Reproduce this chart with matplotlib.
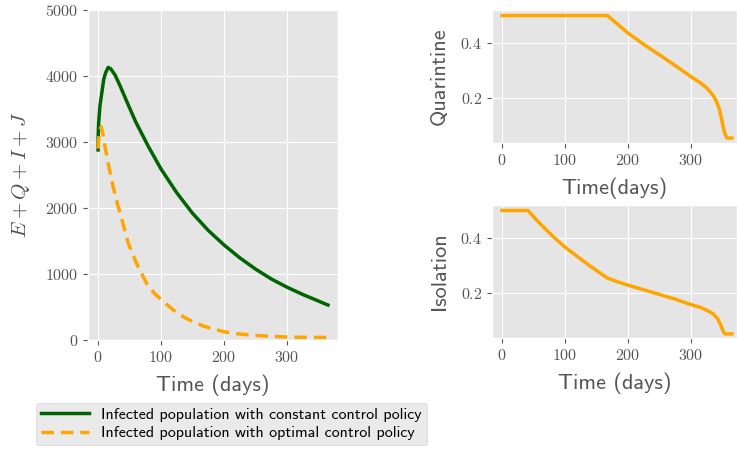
import numpy as np
import matplotlib
matplotlib.use("Agg")
from matplotlib import pyplot as plt

plt.style.use("ggplot")
plt.rcParams["mathtext.fontset"] = "cm"
plt.rcParams["axes.formatter.use_mathtext"] = True

# infected compartments E+Q+I+J
t_const = [0, 0.3, 1, 3, 6, 9, 12, 16, 20, 27, 35, 48, 60, 80, 100, 125, 150, 175, 200, 225, 250, 275, 300, 325, 350, 365]
inf_const = [2880, 3150, 3300, 3550, 3750, 3950, 4050, 4130, 4110, 4015, 3850, 3560, 3300, 2930, 2590, 2230, 1920, 1660, 1440, 1245, 1075, 925, 800, 690, 590, 530]
t_opt = [0, 2, 5, 8, 11, 17, 24, 30, 38, 48, 61, 77, 90, 104, 120, 135, 150, 170, 200, 225, 250, 275, 300, 330, 365]
inf_opt = [2900, 3150, 3230, 3100, 2930, 2630, 2320, 2090, 1818, 1465, 1162, 859, 700, 580, 450, 353, 280, 202, 125, 90, 70, 55, 45, 40, 40]

# control profiles
t_q = [0, 167, 180, 200, 225, 250, 275, 300, 315, 325, 335, 340, 345, 348, 351, 354, 357, 365]
quar = [0.5, 0.5, 0.475, 0.436, 0.395, 0.357, 0.318, 0.278, 0.255, 0.237, 0.21, 0.19, 0.16, 0.13, 0.095, 0.07, 0.055, 0.055]
t_iso = [0, 41, 55, 70, 85, 100, 120, 140, 155, 167, 185, 200, 225, 250, 275, 300, 315, 325, 335, 342, 347, 351, 354, 365]
isol = [0.5, 0.5, 0.465, 0.43, 0.397, 0.367, 0.332, 0.298, 0.274, 0.255, 0.24, 0.229, 0.212, 0.195, 0.178, 0.158, 0.148, 0.138, 0.125, 0.108, 0.085, 0.062, 0.052, 0.052]

W, H = 737, 451
fig = plt.figure(figsize=(W / 100, H / 100), dpi=100)
ax1 = fig.add_axes([88 / W, 1 - 340 / H, 250 / W, 330 / H])
ax2 = fig.add_axes([492 / W, 1 - 143 / H, 245 / W, 133 / H])
ax3 = fig.add_axes([492 / W, 1 - 338 / H, 245 / W, 133 / H])

ax1.plot(t_const, inf_const, color="darkgreen", lw=2.5, label="Infected population with constant control policy")
ax1.plot(t_opt, inf_opt, color="orange", lw=2.5, ls=(0, (3.6, 2)), label="Infected population with optimal control policy")
ax1.set_ylim(0, 5000)
ax1.set_xlim(-16, 381)
ax1.set_xticks([0, 100, 200, 300])
ax1.set_ylabel(r"$E+Q+I+J$", fontsize=15, color="#555555", labelpad=9)
ax1.set_xlabel("Time (days)", fontfamily="cmss10", fontsize=16, color="#555555", labelpad=7)

ax2.plot(t_q, quar, color="orange", lw=2.5)
ax2.set_ylabel("Quarintine", fontfamily="cmss10", fontsize=16, color="#555555", labelpad=8)
ax2.set_xlabel("Time(days)", fontfamily="cmss10", fontsize=16, color="#555555", labelpad=7)
ax2.set_ylim(0.037, 0.52)

ax3.plot(t_iso, isol, color="orange", lw=2.5)
ax3.set_ylabel("Isolation", fontfamily="cmss10", fontsize=16, color="#555555", labelpad=8)
ax3.set_xlabel("Time (days)", fontfamily="cmss10", fontsize=16, color="#555555", labelpad=7)
ax3.set_ylim(0.037, 0.52)

for ax in (ax2, ax3):
    ax.set_xlim(-16, 373)
    ax.set_xticks([0, 100, 200, 300])
    ax.set_yticks([0.2, 0.4])

for ax in (ax1, ax2, ax3):
    for lab in ax.get_xticklabels() + ax.get_yticklabels():
        lab.set_fontfamily("cmr10")
        lab.set_fontsize(11.5)
        lab.set_color("#555555")

h, l = ax1.get_legend_handles_labels()
leg = fig.legend(h, l, loc="upper left", bbox_to_anchor=(36 / W, 1 - 403 / H),
                 prop={"family": "cmss10", "size": 11.5}, handlelength=3,
                 borderaxespad=0, borderpad=0.3, labelspacing=0.25, frameon=True)
leg.get_frame().set_facecolor("#e5e5e5")
leg.get_frame().set_edgecolor("#cccccc")

fig.savefig("out.png", dpi=100)
